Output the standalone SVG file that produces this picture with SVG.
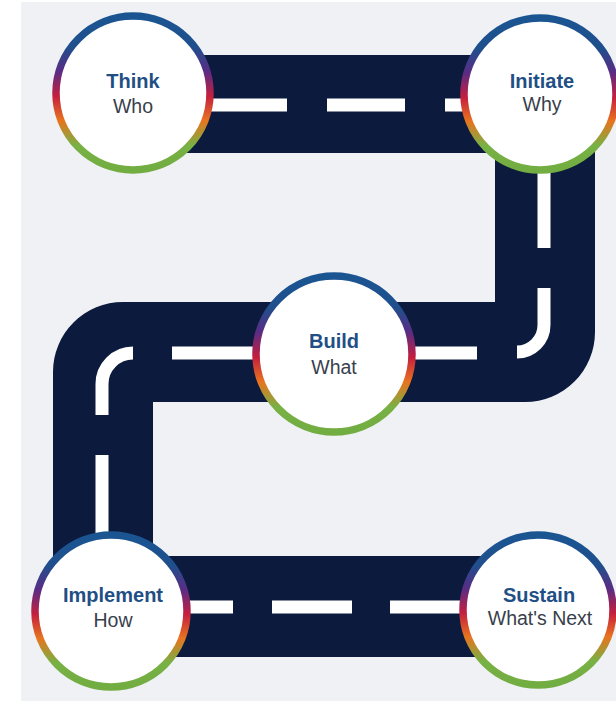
<svg xmlns="http://www.w3.org/2000/svg" width="616" height="701" viewBox="0 0 616 701">
  <defs>
    <linearGradient id="ring" x1="0" y1="0" x2="0" y2="1">
      <stop offset="0" stop-color="#1a5592"/>
      <stop offset="0.2" stop-color="#1f4f8c"/>
      <stop offset="0.36" stop-color="#5a2c84"/>
      <stop offset="0.52" stop-color="#c41f3f"/>
      <stop offset="0.68" stop-color="#e8741f"/>
      <stop offset="0.84" stop-color="#78b144"/>
      <stop offset="1" stop-color="#72ad42"/>
    </linearGradient>
    <style>
      .road { fill: #0b1a3d; }
      .dash { fill: none; stroke: #ffffff; stroke-width: 13; stroke-linecap: butt; }
      .ring { fill: #ffffff; stroke: url(#ring); stroke-width: 7.5; }
      .t1 { font-family: "Liberation Sans", Arial, sans-serif; font-weight: bold; font-size: 20px; fill: #1f4f85; text-anchor: middle; }
      .t2 { font-family: "Liberation Sans", Arial, sans-serif; font-size: 19.5px; fill: #38404c; text-anchor: middle; }
    </style>
  </defs>
  <rect x="0" y="0" width="616" height="701" fill="#ffffff"/>
  <rect x="21" y="2" width="595" height="699" fill="#eff1f5"/>

  <g id="connectors">
    <path class="road" d="M 133 55 H 595 V 332 A 70 70 0 0 1 525 402 H 153 V 556 H 540 V 657 H 53 V 372 A 70 70 0 0 1 123 302 H 495 V 153 H 133 Z"/>
    <path class="dash" d="M 170 105 H 287 M 327 105 H 405 M 445 105 H 500"/>
    <path class="dash" d="M 544 150 V 248"/>
    <path class="dash" d="M 544 288 V 325 A 27 27 0 0 1 517 352"/>
    <path class="dash" d="M 477 353 H 395"/>
    <path class="dash" d="M 172 353 H 260"/>
    <path class="dash" d="M 133 353 A 31 31 0 0 0 102 384 V 415"/>
    <path class="dash" d="M 102 455 V 560"/>
    <path class="dash" d="M 160 607 H 233 M 272 607 H 352 M 390 607 H 480"/>
  </g>

  <g id="think">
    <circle class="ring" cx="133" cy="93" r="77"/>
    <text class="t1" x="133" y="88">Think</text>
    <text class="t2" x="133" y="113">Who</text>
  </g>
  <g id="initiate">
    <circle class="ring" cx="540" cy="94" r="76"/>
    <text class="t1" x="542" y="88">Initiate</text>
    <text class="t2" x="542" y="111">Why</text>
  </g>
  <g id="build">
    <circle class="ring" cx="334" cy="354" r="78"/>
    <text class="t1" x="334" y="348">Build</text>
    <text class="t2" x="334" y="374">What</text>
  </g>
  <g id="implement">
    <circle class="ring" cx="111" cy="611" r="76"/>
    <text class="t1" x="113" y="602">Implement</text>
    <text class="t2" x="113" y="627">How</text>
  </g>
  <g id="sustain">
    <circle class="ring" cx="538" cy="610" r="75"/>
    <text class="t1" x="539" y="602">Sustain</text>
    <text class="t2" x="540" y="625">What's Next</text>
  </g>
</svg>
